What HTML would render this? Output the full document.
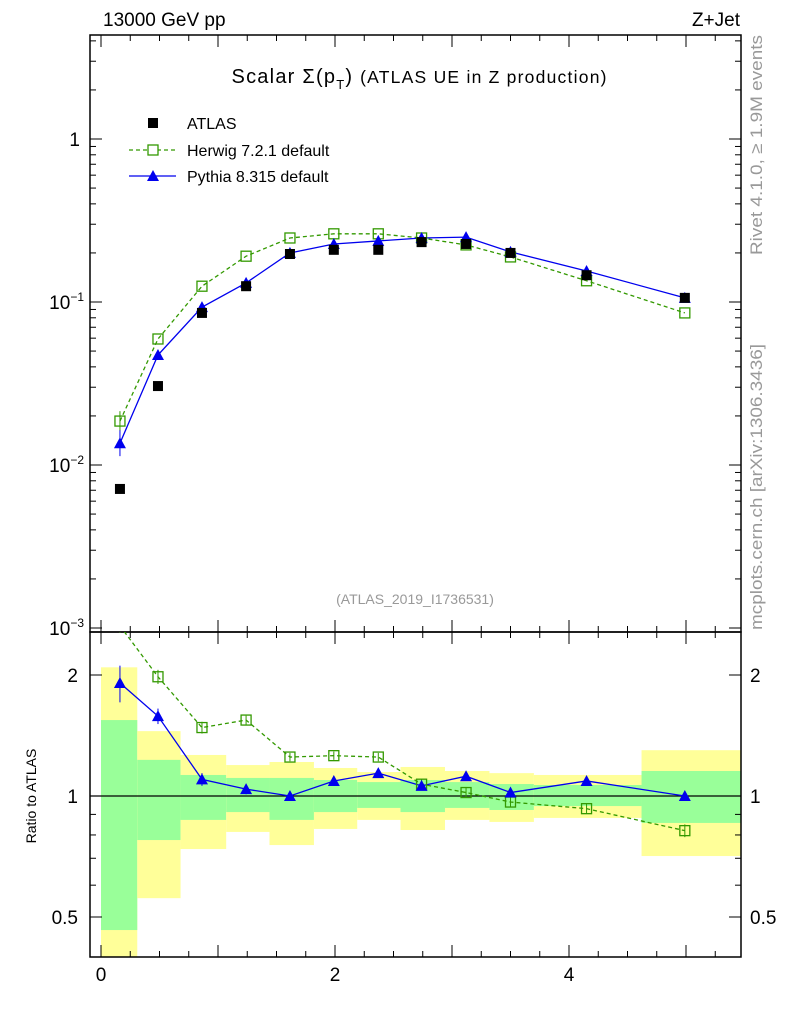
<!DOCTYPE html>
<html><head><meta charset="utf-8"><style>
body{margin:0;background:#fff;}
svg text{font-family:"Liberation Sans",sans-serif;}
</style></head><body>
<svg id="c" width="786" height="1024" xmlns="http://www.w3.org/2000/svg">
<text x="103" y="26" font-size="19">13000 GeV pp</text>
<text x="740" y="26" font-size="19" text-anchor="end">Z+Jet</text>
<text x="419" y="83" font-size="20" text-anchor="middle" textLength="375">Scalar Σ(p<tspan font-size="13" dy="6">T</tspan><tspan dy="-6">) </tspan><tspan font-size="17.5">(ATLAS UE in Z production)</tspan></text>
<text x="415" y="604" font-size="14" fill="#999" text-anchor="middle">(ATLAS_2019_I1736531)</text>
<text transform="translate(762,255) rotate(-90)" font-size="17" fill="#999" textLength="220" lengthAdjust="spacingAndGlyphs">Rivet 4.1.0, ≥ 1.9M events</text>
<text transform="translate(762,630) rotate(-90)" font-size="17" fill="#999" textLength="286" lengthAdjust="spacingAndGlyphs">mcplots.cern.ch [arXiv:1306.3436]</text>
<text transform="translate(36,796) rotate(-90)" font-size="14" text-anchor="middle">Ratio to ATLAS</text>
<g id="g"></g>
</svg>
<script>
const xs=[0.162,0.487,0.863,1.24,1.615,1.99,2.37,2.74,3.12,3.5,4.15,4.99];
const edges=[0.0,0.31,0.68,1.07,1.44,1.82,2.19,2.56,2.94,3.32,3.7,4.62,5.47];
const atlas=[0.00713,0.0305,0.0857,0.125,0.197,0.209,0.209,0.233,0.227,0.2,0.146,0.106];
const herwig=[0.0186,0.0593,0.125,0.191,0.247,0.262,0.262,0.247,0.224,0.189,0.135,0.0857];
const pythia=[0.0136,0.0473,0.093,0.131,0.2,0.227,0.237,0.247,0.25,0.203,0.155,0.106];
const herwigRatio=[2.65,1.98,1.48,1.545,1.25,1.26,1.25,1.07,1.02,0.966,0.93,0.82];
const pythiaRatio=[1.91,1.58,1.10,1.04,1.0,1.09,1.14,1.06,1.12,1.02,1.09,1.0];
const herwigRatioErr=[0.1,0.08,0.05,0.04,0.03,0.03,0.03,0.03,0.03,0.03,0.025,0.03];
const pythiaRatioErr=[0.2,0.07,0.04,0.03,0.025,0.02,0.02,0.025,0.025,0.02,0.02,0.02];
const yellowHi=[2.09,1.45,1.265,1.194,1.215,1.174,1.147,1.181,1.154,1.14,1.128,1.30];
const yellowLo=[0.35,0.557,0.738,0.814,0.755,0.828,0.872,0.823,0.872,0.862,0.882,0.709];
const greenHi=[1.545,1.23,1.128,1.109,1.109,1.096,1.083,1.096,1.083,1.071,1.065,1.154];
const greenLo=[0.464,0.777,0.872,0.912,0.872,0.912,0.934,0.912,0.934,0.923,0.944,0.857];
const xTicks=[0,2,4];
const NS="http://www.w3.org/2000/svg";
const L=90,R=741,T=35,M=632,B=957;
const X=v=>101+v*117;
const Y=v=>139-163*Math.log10(v);
const RY=v=>796-121*Math.log2(v);
const g=document.getElementById('g');
function mk(t,a,p){const e=document.createElementNS(NS,t);for(const k in a)e.setAttribute(k,a[k]);(p||g).appendChild(e);return e;}
const clipD=mk('defs',{});
const cp=mk('clipPath',{id:'cm'},clipD);mk('rect',{x:L,y:T,width:R-L,height:M-T},cp);
const cr=mk('clipPath',{id:'cr'},clipD);mk('rect',{x:L,y:M,width:R-L,height:B-M},cr);
const bands=mk('g',{'clip-path':'url(#cr)'});
for(let i=0;i<xs.length;i++){
 let e=mk('rect',{x:X(edges[i]),y:RY(yellowHi[i]),width:X(edges[i+1])-X(edges[i]),height:RY(yellowLo[i])-RY(yellowHi[i]),fill:'#ffff99'},bands);
 
 
 e=mk('rect',{x:X(edges[i]),y:RY(greenHi[i]),width:X(edges[i+1])-X(edges[i]),height:RY(greenLo[i])-RY(greenHi[i]),fill:'#99ff99'},bands);
 
 
}
mk('line',{x1:L,x2:R,y1:RY(1),y2:RY(1),stroke:'#000','stroke-width':1.2});
mk('rect',{x:L,y:T,width:R-L,height:M-T,fill:'none',stroke:'#000','stroke-width':1.5});
mk('rect',{x:L,y:M,width:R-L,height:B-M,fill:'none',stroke:'#000','stroke-width':1.5});
const ylabs={0:'1','-1':'10<tspan font-size="12" dy="-8">−1</tspan>','-2':'10<tspan font-size="12" dy="-8">−2</tspan>','-3':'10<tspan font-size="12" dy="-8">−3</tspan>'};
for(let d=-3;d<=0;d++){
 for(let k=1;k<10;k++){const v=k*Math.pow(10,d);const y=Y(v);if(y<T||y>M)continue;const len=k==1?12:6;
  mk('line',{x1:L,x2:L+len,y1:y,y2:y,stroke:'#000'});mk('line',{x1:R,x2:R-len,y1:y,y2:y,stroke:'#000'});}
 const t=mk('text',{x:d==0?80:84,y:Y(Math.pow(10,d))+7,'font-size':19,'text-anchor':'end'});t.innerHTML=ylabs[d];
 
 
}
[0.5,0.6,0.7,0.8,0.9,1,2].forEach(v=>{const y=RY(v);const len=(v==0.5||v==1||v==2)?12:6;
 mk('line',{x1:L,x2:L+len,y1:y,y2:y,stroke:'#000'});mk('line',{x1:R,x2:R-len,y1:y,y2:y,stroke:'#000'});
 if(len==12){const s=v==0.5?'0.5':String(v);
  let t=mk('text',{x:78,y:y+7,'font-size':19,'text-anchor':'end'});t.textContent=s;
  
  
  t=mk('text',{x:750,y:y+7,'font-size':19});t.textContent=s;
  
  }});
for(let v=0;v<=5.4;v+=0.25){const x=X(v);if(x<L||x>R)continue;const maj=Math.abs(v-Math.round(v))<1e-6;const len=maj?12:6;
 mk('line',{x1:x,x2:x,y1:B,y2:B-len,stroke:'#000'});mk('line',{x1:x,x2:x,y1:M,y2:M-len,stroke:'#000'});mk('line',{x1:x,x2:x,y1:T,y2:T+len,stroke:'#000'});mk('line',{x1:x,x2:x,y1:M,y2:M+len,stroke:'#000'});}
xTicks.forEach(v=>{const t=mk('text',{x:X(v),y:981,'font-size':19,'text-anchor':'middle'});t.textContent=v;
 
 });
const mg=mk('g',{'clip-path':'url(#cm)'});
let p=mk('polyline',{points:xs.map((x,i)=>X(x)+','+Y(herwig[i])).join(' '),fill:'none',stroke:'#339900','stroke-width':1.3,'stroke-dasharray':'4,3'},mg);


p=mk('polyline',{points:xs.map((x,i)=>X(x)+','+Y(pythia[i])).join(' '),fill:'none',stroke:'#0000ee','stroke-width':1.3},mg);


function sq(x,y,par,n){const e=mk('rect',{x:x-5,y:y-5,width:10,height:10,fill:'none',stroke:'#339900','stroke-width':1.3},par);}
function tri(x,y,par,n){const e=mk('polygon',{points:`${x},${y-6} ${x-6},${y+5} ${x+6},${y+5}`,fill:'#0000ee'},par);}
mk('line',{x1:X(xs[0]),x2:X(xs[0]),y1:Y(herwig[0]*1.15),y2:Y(herwig[0]/1.15),stroke:'#339900'},mg);
mk('line',{x1:X(xs[0]),x2:X(xs[0]),y1:Y(pythia[0]*1.2),y2:Y(pythia[0]/1.2),stroke:'#0000ee'},mg);
xs.forEach((x,i)=>{
 sq(X(x),Y(herwig[i]),mg,'herwig-point');
 tri(X(x),Y(pythia[i]),mg,'pythia-point');
 const e=mk('rect',{x:X(x)-5,y:Y(atlas[i])-5,width:10,height:10,fill:'#000'},mg);
 
 
});
const rg=mk('g',{'clip-path':'url(#cr)'});
p=mk('polyline',{points:xs.map((x,i)=>X(x)+','+RY(herwigRatio[i])).join(' '),fill:'none',stroke:'#339900','stroke-width':1.3,'stroke-dasharray':'4,3'},rg);


p=mk('polyline',{points:xs.map((x,i)=>X(x)+','+RY(pythiaRatio[i])).join(' '),fill:'none',stroke:'#0000ee','stroke-width':1.3},rg);


xs.forEach((x,i)=>{
 mk('line',{x1:X(x),x2:X(x),y1:RY(herwigRatio[i]+herwigRatioErr[i]),y2:RY(herwigRatio[i]-herwigRatioErr[i]),stroke:'#339900'},rg);
 mk('line',{x1:X(x),x2:X(x),y1:RY(pythiaRatio[i]+pythiaRatioErr[i]),y2:RY(pythiaRatio[i]-pythiaRatioErr[i]),stroke:'#0000ee'},rg);
 sq(X(x),RY(herwigRatio[i]),rg,'herwig-ratio-point');
 tri(X(x),RY(pythiaRatio[i]),rg,'pythia-ratio-point');
});
const lg=mk('g',{});
mk('rect',{x:148,y:118,width:10,height:10,fill:'#000'},lg);
mk('line',{x1:129,x2:176,y1:150,y2:150,stroke:'#339900','stroke-width':1.3,'stroke-dasharray':'4,3'},lg);
mk('rect',{x:148,y:145,width:10,height:10,fill:'#fff'},lg);
sq(153,150,lg,'legend-herwig-marker');
mk('line',{x1:129,x2:176,y1:176,y2:176,stroke:'#0000ee','stroke-width':1.3},lg);
tri(153,176,lg,'legend-pythia-marker');
[['ATLAS',129],['Herwig 7.2.1 default',156],['Pythia 8.315 default',182]].forEach(([s,y])=>{const t=mk('text',{x:187,y:y,'font-size':16},lg);t.textContent=s;
 
 });
</script>
</body></html>
